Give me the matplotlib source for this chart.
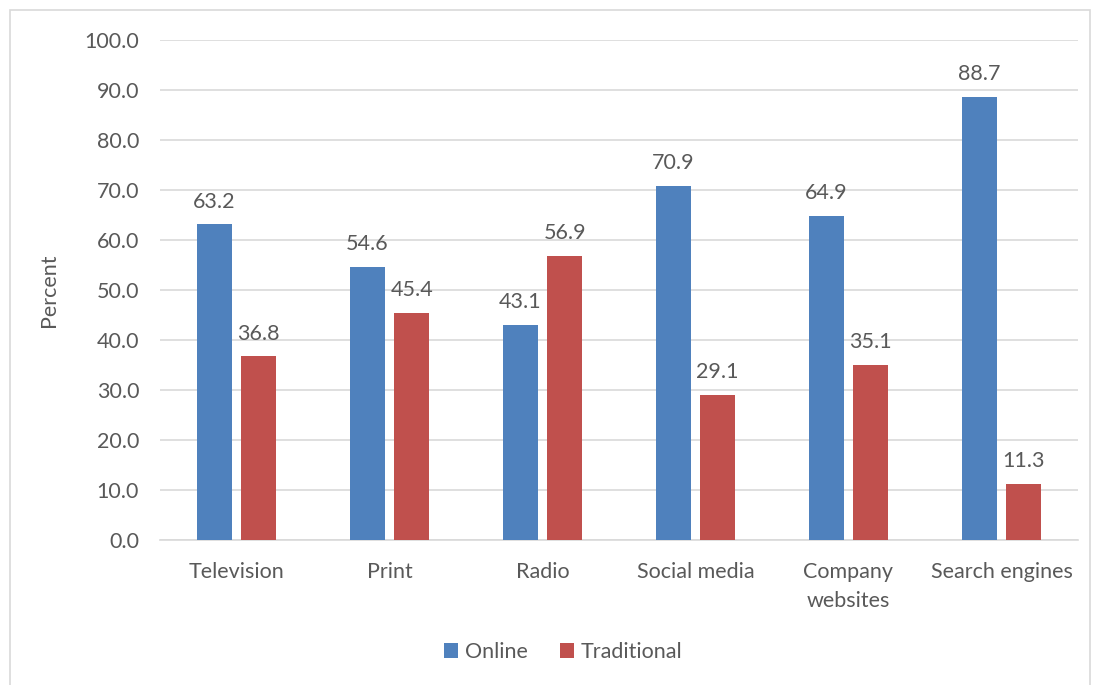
import numpy as np
import matplotlib.pyplot as plt
from matplotlib.patches import Rectangle

categories = ["Television", "Print", "Radio", "Social media",
              "Company\nwebsites", "Search engines"]
online = [63.2, 54.6, 43.1, 70.9, 64.9, 88.7]
traditional = [36.8, 45.4, 56.9, 29.1, 35.1, 11.3]

BLUE = "#4F81BD"
RED = "#C0504D"
TEXT = "#595959"
GRID = "#D9D9D9"
FS = 15.5

plt.rcParams['font.family'] = ['Lato', 'DejaVu Sans']

fig = plt.figure(figsize=(10.94, 6.85), dpi=100)
# outer chart border
fig.patches.append(Rectangle((10 / 1094, -0.01), 1080 / 1094, 1 - 10 / 685 + 0.01,
                             transform=fig.transFigure, fill=False,
                             edgecolor=GRID, lw=1.2))

ax = fig.add_axes([160 / 1094, 1 - 540 / 685, 918 / 1094, 500 / 685])
x = np.arange(len(categories))
w = 0.23
off = 0.145
b1 = ax.bar(x - off, online, w, color=BLUE, label="Online", zorder=3)
b2 = ax.bar(x + off, traditional, w, color=RED, label="Traditional", zorder=3)

for bars in (b1, b2):
    for r in bars:
        ax.annotate(f"{r.get_height():.1f}",
                    (r.get_x() + r.get_width() / 2, r.get_height()),
                    xytext=(0, 9), textcoords="offset points",
                    ha="center", va="bottom", fontsize=FS, color=TEXT)

ax.set_xlim(-0.5, len(categories) - 0.5)
ax.set_ylim(0, 100)
ax.set_yticks(np.arange(0, 101, 10))
ax.set_yticklabels([f"{v:.1f}" for v in np.arange(0, 101, 10)])
ax.yaxis.grid(True, color=GRID, lw=1.2, zorder=0)
ax.set_xticks(x)
ax.set_xticklabels(categories, linespacing=1.55)
ax.tick_params(axis="both", length=0, labelsize=FS, labelcolor=TEXT)
ax.tick_params(axis="y", pad=15)
ax.tick_params(axis="x", pad=16)
for s in ("top", "right", "left"):
    ax.spines[s].set_visible(False)
ax.spines["bottom"].set_color(GRID)
ax.spines["bottom"].set_linewidth(1.2)
ax.set_ylabel("Percent", fontsize=FS, color=TEXT, labelpad=18)

fig.legend(handles=[b1, b2], loc="center", bbox_to_anchor=(563 / 1094, 1 - 652 / 685),
           ncol=2, frameon=False, fontsize=FS, labelcolor=TEXT,
           handlelength=0.65, handleheight=0.65, handletextpad=0.3, columnspacing=1.5)

fig.savefig("out.png", dpi=100)
